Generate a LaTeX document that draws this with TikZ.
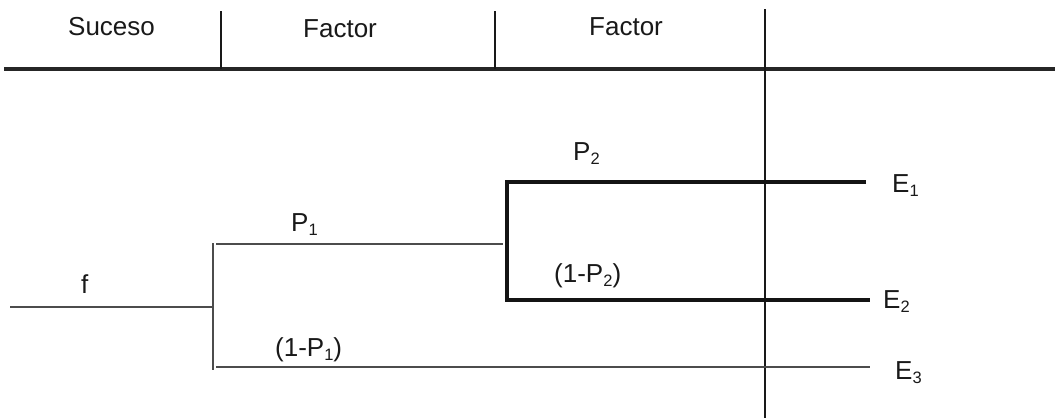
\documentclass[tikz,border=0pt]{standalone}
\usepackage{fontspec}
\setmainfont{Liberation Sans}
\newcommand{\ssub}[1]{\raisebox{-0.17em}{\fontsize{16.5}{16.5}\selectfont #1}}
\begin{document}
\begin{tikzpicture}[x=1pt,y=-1pt,
  lbl/.style={anchor=base west, inner sep=0pt, font=\fontsize{26}{31}\selectfont, text=black!90},
  rule/.style={line width=3.2pt, draw=black!85},
  divider/.style={line width=2.6pt, draw=black!90},
  grid/.style={line width=1.6pt, draw=black!90},
  lightbranch/.style={line width=2pt, draw=black!70},
  heavybranch/.style={line width=3.5pt, draw=black!92}]
\useasboundingbox (0,0) rectangle (1055,418);
% header
\coordinate (hl) at (4,69);
\coordinate (hr) at (1055,69);
\coordinate (d1t) at (221,11);
\coordinate (d1b) at (221,69);
\coordinate (d2t) at (495,11);
\coordinate (d2b) at (495,69);
\coordinate (d3t) at (765,9);
\coordinate (d3m) at (765,69);
\coordinate (d3b) at (765,418);
\draw[rule] (hl) -- (hr);
\draw[divider] (d1t) -- (d1b);
\draw[divider] (d2t) -- (d2b);
\draw[divider] (d3t) -- (d3m);
\draw[grid] (d3m) -- (d3b);
\node[lbl] (suc) at (68,35) {Suceso};
\node[lbl] (fac1) at (303,37) {Factor};
\node[lbl] (fac2) at (589,35) {Factor};
% tree
\coordinate (f0) at (10,307);
\coordinate (n1) at (213,307);
\coordinate (n1t) at (213,243);
\coordinate (n1b) at (213,370);
\coordinate (a1) at (216,244);
\coordinate (a2) at (503,244);
\coordinate (b1) at (216,367);
\coordinate (b2) at (870,367);
\coordinate (n2t) at (507,182);
\coordinate (n2b) at (507,302);
\coordinate (c2) at (866,182);
\coordinate (d1) at (509,300);
\coordinate (d2) at (870,300);
\draw[lightbranch] (f0) -- (n1);
\draw[lightbranch] (n1t) -- (n1b);
\draw[lightbranch] (a1) -- (a2);
\draw[lightbranch] (b1) -- (b2);
\draw[heavybranch] (c2) -- (n2t) -- (n2b);
\draw[heavybranch] (d1) -- (d2);
\node[lbl] (f) at (81,293) {f};
\node[lbl] (p1) at (291,231) {P\ssub{1}};
\node[lbl] (q1) at (275,356) {(1-P\ssub{1})};
\node[lbl] (p2) at (573,160) {P\ssub{2}};
\node[lbl] (q2) at (554,282) {(1-P\ssub{2})};
\node[lbl] (e1) at (892,192) {E\ssub{1}};
\node[lbl] (e2) at (883,308) {E\ssub{2}};
\node[lbl] (e3) at (895,379) {E\ssub{3}};
\end{tikzpicture}
\end{document}
